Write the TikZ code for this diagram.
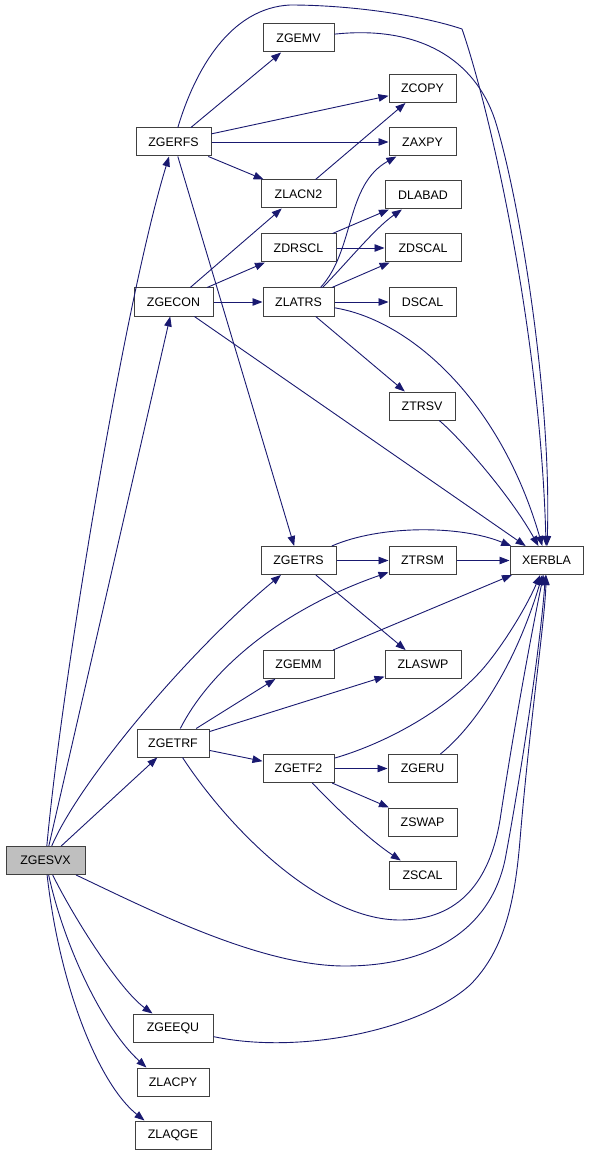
\documentclass[tikz,border=0pt]{standalone}
\usepackage{fontspec}
\setmainfont{Liberation Sans}
\usetikzlibrary{arrows.meta}
\definecolor{edgeblue}{HTML}{191970}
\definecolor{boxline}{HTML}{404040}
\tikzset{
  fn/.style={draw=boxline, line width=1pt, fill=white, minimum height=28pt, inner sep=0pt,
    font=\fontsize{12.4}{14}\selectfont, text=black},
  root/.style={fn, fill=black!25},
  edge/.style={draw=edgeblue, line width=0.9pt, -{Triangle[length=10pt,width=7.5pt]}, fill=none}
}
\begin{document}
\begin{tikzpicture}[x=1pt,y=-1pt]
\useasboundingbox (0,0) rectangle (589,1155);
% nodes
\node[root, minimum width=79pt] (ZGESVX) at (45.5,860.5) {ZGESVX};
\node[fn, minimum width=75pt] (ZGERFS) at (173.5,142) {ZGERFS};
\node[fn, minimum width=79pt] (ZGECON) at (173.5,302) {ZGECON};
\node[fn, minimum width=75pt] (ZGETRS) at (298.5,560.5) {ZGETRS};
\node[fn, minimum width=72pt] (ZGETRF) at (173,743) {ZGETRF};
\node[fn, minimum width=80pt] (ZGEEQU) at (173,1028) {ZGEEQU};
\node[fn, minimum width=72pt] (ZLACPY) at (173,1082) {ZLACPY};
\node[fn, minimum width=76pt] (ZLAQGE) at (173,1135) {ZLAQGE};
\node[fn, minimum width=71pt] (ZGEMV) at (298.5,38) {ZGEMV};
\node[fn, minimum width=75pt] (ZLACN2) at (298.5,194) {ZLACN2};
\node[fn, minimum width=75pt] (ZDRSCL) at (298.5,248) {ZDRSCL};
\node[fn, minimum width=71pt] (ZLATRS) at (298.5,302) {ZLATRS};
\node[fn, minimum width=71pt] (ZGEMM) at (298.5,664.5) {ZGEMM};
\node[fn, minimum width=71pt] (ZGETF2) at (298.5,768.5) {ZGETF2};
\node[fn, minimum width=67pt] (ZCOPY) at (422.5,88.5) {ZCOPY};
\node[fn, minimum width=67pt] (ZAXPY) at (422.5,142) {ZAXPY};
\node[fn, minimum width=76pt] (DLABAD) at (423,195) {DLABAD};
\node[fn, minimum width=76pt] (ZDSCAL) at (423,248) {ZDSCAL};
\node[fn, minimum width=67pt] (DSCAL) at (422.5,302) {DSCAL};
\node[fn, minimum width=66pt] (ZTRSV) at (422,406) {ZTRSV};
\node[fn, minimum width=67pt] (ZTRSM) at (422.5,560.5) {ZTRSM};
\node[fn, minimum width=76pt] (ZLASWP) at (423,664.5) {ZLASWP};
\node[fn, minimum width=69pt] (ZGERU) at (422.5,768.5) {ZGERU};
\node[fn, minimum width=69pt] (ZSWAP) at (422.5,822) {ZSWAP};
\node[fn, minimum width=67pt] (ZSCAL) at (422.5,875) {ZSCAL};
\node[fn, minimum width=73pt] (XERBLA) at (546.5,560.5) {XERBLA};

% ZGESVX calls
\draw[edge] (ZGESVX) .. controls (62,680) and (125,300) .. (ZGERFS);
\draw[edge] (ZGESVX) -- (ZGECON);
\draw[edge] (ZGESVX) .. controls (80,780) and (190,650) .. (ZGETRS);
\draw[edge] (ZGESVX) -- (ZGETRF);
\draw[edge] (ZGESVX) .. controls (150,910) and (260,966) .. (345,966)
   .. controls (430,966) and (490,930) .. (505,860)
   .. controls (520,780) and (540,650) .. (XERBLA);
\draw[edge] (ZGESVX) .. controls (75,920) and (120,990) .. ([xshift=20pt]ZGEEQU.north west);
\draw[edge] (ZGESVX) .. controls (65,950) and (105,1030) .. ([xshift=10pt]ZLACPY.north west);
\draw[edge] (ZGESVX) .. controls (60,990) and (100,1085) .. ([xshift=10pt]ZLAQGE.north west);

% ZGERFS calls
\draw[edge] (ZGERFS) -- (ZGEMV);
\draw[edge] (ZGERFS) .. controls (195,70) and (230,8) .. (290,5)
   .. controls (350,5) and (420,15) .. (462,29)
   .. controls (490,110) and (540,330) .. (XERBLA);
\draw[edge] (ZGERFS) -- (ZCOPY);
\draw[edge] (ZGERFS) -- (ZAXPY);
\draw[edge] (ZGERFS) -- (ZLACN2);
\draw[edge] (ZGERFS) -- (ZGETRS);

% ZGEMV
\draw[edge] (ZGEMV) .. controls (420,25) and (475,60) .. (495,120)
   .. controls (520,200) and (552,400) .. (XERBLA);

% ZGECON calls
\draw[edge] (ZGECON) -- (ZLACN2);
\draw[edge] (ZGECON) -- (ZDRSCL);
\draw[edge] (ZGECON) -- (ZLATRS);
\draw[edge] (ZGECON) -- (XERBLA);

% ZLACN2, ZDRSCL
\draw[edge] (ZLACN2) -- (ZCOPY);
\draw[edge] (ZDRSCL) -- (DLABAD);
\draw[edge] (ZDRSCL) -- (ZDSCAL);

% ZLATRS calls
\draw[edge] ([xshift=-14pt]ZLATRS.north east) .. controls (355,250) and (345,185) .. (ZAXPY);
\draw[edge] ([xshift=-12pt]ZLATRS.north east) .. controls (345,265) and (375,228) .. (DLABAD);
\draw[edge] (ZLATRS) -- (ZDSCAL);
\draw[edge] (ZLATRS) -- (DSCAL);
\draw[edge] (ZLATRS) -- (ZTRSV);
\draw[edge] (ZLATRS) .. controls (410,320) and (500,400) .. (XERBLA);

% ZTRSV
\draw[edge] (ZTRSV) .. controls (460,438) and (510,495) .. (XERBLA);

% ZGETRS calls
\draw[edge] (ZGETRS) .. controls (380,525) and (460,525) .. (XERBLA);
\draw[edge] (ZGETRS) -- (ZTRSM);
\draw[edge] (ZGETRS) -- (ZLASWP);
\draw[edge] (ZTRSM) -- (XERBLA);

% ZGETRF calls
\draw[edge] (ZGETRF) .. controls (210,670) and (280,610) .. (ZTRSM);
\draw[edge] (ZGETRF) -- (ZGEMM);
\draw[edge] (ZGETRF) -- (ZLASWP);
\draw[edge] (ZGETRF) -- (ZGETF2);
\draw[edge] (ZGETRF) .. controls (230,830) and (320,920) .. (400,920)
   .. controls (460,920) and (490,880) .. (500,820)
   .. controls (512,740) and (530,640) .. (XERBLA);
\draw[edge] (ZGEMM) -- (XERBLA);

% ZGETF2 calls
\draw[edge] (ZGETF2) .. controls (380,745) and (440,715) .. (480,672)
   .. controls (500,650) and (525,610) .. (XERBLA);
\draw[edge] (ZGETF2) -- (ZGERU);
\draw[edge] (ZGETF2) -- (ZSWAP);
\draw[edge] (ZGETF2) .. controls (340,812) and (370,840) .. (ZSCAL);
\draw[edge] (ZGERU) .. controls (470,730) and (495,690) .. (510,660)
   .. controls (525,630) and (535,600) .. (XERBLA);

% ZGEEQU
\draw[edge] (ZGEEQU) .. controls (300,1055) and (420,1030) .. (470,985)
   .. controls (505,950) and (515,900) .. (520,840)
   .. controls (530,720) and (545,620) .. (XERBLA);
\end{tikzpicture}
\end{document}
